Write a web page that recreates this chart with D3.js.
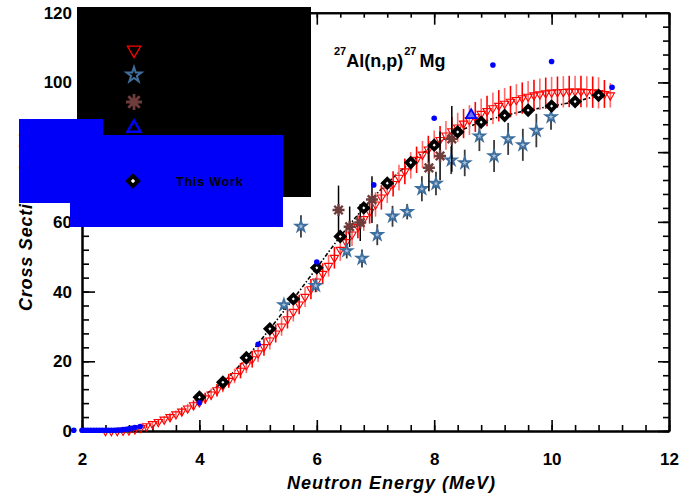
<!DOCTYPE html>
<html>
<head>
  <meta charset="utf-8">
  <title>27Al(n,p)27Mg</title>
  <script src="https://d3js.org/d3.v7.min.js"></script>
  <style>
    body { margin: 0; background: #fff; }
    text { font-family: "Liberation Sans", Arial, sans-serif; }
    .axis text { font-size: 17px; font-weight: bold; fill: #000; }
    .axis path, .axis line { stroke: #000; }
  </style>
</head>
<body>
<svg id="chart"></svg>
<script>
// ENDF-like evaluation (red down triangles)
const redE = [2.4, 2.5, 2.6, 2.7, 2.8, 2.9, 3.0, 3.1, 3.2, 3.3, 3.4, 3.5, 3.6, 3.7, 3.8, 3.9,
  4.0, 4.1, 4.2, 4.3, 4.4, 4.5, 4.6, 4.7, 4.8, 4.9, 5.0, 5.1, 5.2, 5.3, 5.4, 5.5, 5.6, 5.7, 5.8, 5.9,
  6.0, 6.1, 6.2, 6.3, 6.4, 6.5, 6.6, 6.7, 6.8, 6.9, 7.0, 7.1, 7.2, 7.3, 7.4, 7.5, 7.6, 7.7, 7.8, 7.9,
  8.0, 8.1, 8.2, 8.3, 8.4, 8.5, 8.6, 8.7, 8.8, 8.9, 9.0, 9.1, 9.2, 9.3, 9.4, 9.5, 9.6, 9.7, 9.8, 9.9,
  10.0, 10.1, 10.2, 10.3, 10.4, 10.5, 10.6, 10.7, 10.8, 10.9, 11.0];
const redV = [0.0, 0.0, 0.0, 0.1, 0.2, 0.5, 0.9, 1.4, 2.0, 2.6, 3.3, 4.0, 4.8, 5.6, 6.5, 7.4,
  8.3, 9.4, 10.5, 11.7, 13.0, 14.4, 15.8, 17.3, 18.9, 20.6, 22.3, 24.1, 26.0, 28.0, 30.0, 32.1, 34.2, 36.3, 38.5, 40.7,
  42.9, 45.1, 47.4, 49.7, 52.0, 54.2, 56.4, 58.6, 60.8, 62.9, 65.0, 67.0, 69.0, 70.9, 72.7, 74.5, 76.2, 77.8, 79.3, 80.8,
  82.2, 83.5, 84.8, 86.0, 87.1, 88.2, 89.2, 90.1, 91.0, 91.8, 92.6, 93.3, 93.9, 94.5, 95.0, 95.5, 95.9, 96.3, 96.6, 96.9,
  97.1, 97.2, 97.3, 97.4, 97.4, 97.4, 97.3, 97.2, 97.0, 96.7, 96.3];
const redErr = [0.2, 0.2, 0.2, 0.3, 0.3, 0.4, 0.5, 0.6, 0.7, 0.8, 0.9, 1.0, 1.1, 1.2, 1.3, 1.4,
  1.5, 1.6, 1.7, 1.8, 1.9, 2.0, 2.1, 2.2, 2.3, 2.4, 2.5, 2.5, 2.6, 2.6, 2.7, 2.7, 2.8, 2.8, 2.9, 2.9,
  3.0, 3.0, 3.1, 3.1, 3.2, 3.2, 3.3, 3.3, 3.4, 3.4, 3.5, 3.5, 3.6, 3.6, 3.7, 3.7, 3.8, 3.8, 3.9, 3.9,
  4.0, 4.0, 4.1, 4.1, 4.2, 4.2, 4.3, 4.3, 4.4, 4.4, 4.5, 4.5, 4.5, 4.5, 4.5, 4.5, 4.5, 4.5, 4.5, 4.5,
  4.5, 4.5, 4.5, 4.5, 4.5, 4.5, 4.5, 4.5, 4.5, 4.0, 3.5];

// blue stars
const starE = [5.44, 5.73, 5.98, 6.51, 6.77, 7.03, 7.29, 7.54, 7.79, 8.03, 8.29, 8.52, 8.77, 9.02, 9.26, 9.51, 9.74, 9.99];
const starV = [36.2, 58.7, 41.7, 51.7, 49.5, 56.3, 61.6, 62.9, 69.5, 71.0, 77.7, 76.9, 84.6, 78.9, 83.8, 82.1, 86.2, 90.1];
const starErr = [1.5, 3.2, 1.9, 2.2, 2.6, 3.0, 3.0, 2.2, 3.6, 3.4, 4.0, 3.8, 4.3, 4.6, 4.6, 4.6, 4.8, 3.7];

// brown asterisks
const astE = [6.37, 6.56, 6.74, 6.94, 7.91, 8.10, 8.30];
const astV = [63.4, 58.6, 59.8, 66.4, 75.5, 78.9, 83.8];
const astErr = [7.0, 5.8, 5.3, 6.7, 6.7, 7.0, 9.4];

// blue up triangle
const triE = [8.63];
const triV = [90.6];

// blue dots
const dotE = [1.86, 2.0, 2.05, 2.1, 2.15, 2.2, 2.25, 2.3, 2.35, 2.4, 2.45, 2.5, 2.55, 2.6, 2.65, 2.7, 2.75, 2.8, 2.85, 2.9, 2.99,
  4.0, 5.0, 6.0, 6.97, 8.0, 9.0, 10.0, 11.03];
const dotV = [0.2, 0.2, 0.2, 0.2, 0.2, 0.2, 0.2, 0.2, 0.2, 0.2, 0.2, 0.2, 0.2, 0.3, 0.3, 0.4, 0.5, 0.6, 0.8, 1.0, 1.3,
  8.1, 24.9, 48.5, 70.6, 89.7, 105.0, 106.0, 98.6];

// this work (black diamonds)
const workE = [4.0, 4.4, 4.8, 5.2, 5.6, 6.0, 6.4, 6.8, 7.2, 7.6, 8.0, 8.4, 8.8, 9.2, 9.6, 10.0, 10.4, 10.8];
const workV = [9.7, 14.0, 21.0, 29.3, 37.9, 46.8, 55.8, 64.0, 71.1, 77.0, 82.0, 85.8, 88.6, 90.5, 92.0, 93.2, 94.5, 96.3];

const xTicks = [2, 4, 6, 8, 10, 12];
const yTicks = [0, 20, 40, 60, 80, 100, 120];

const W = 679, H = 497;
const pLeft = 82, pRight = 669, pTop = 12.7, pBottom = 431;

const svg = d3.select("#chart").attr("width", W).attr("height", H);

const x = d3.scaleLinear().domain([2, 12]).range([pLeft, pRight]);
const y = d3.scaleLinear().domain([0, 120]).range([pBottom, pTop]);

const zip = (a, b, c) => a.map((d, i) => ({ e: d, v: b[i], err: c ? c[i] : 0 }));
const red = zip(redE, redV, redErr);
const stars = zip(starE, starV, starErr);
const asts = zip(astE, astV, astErr);
const dots = zip(dotE, dotV);
const work = zip(workE, workV);
const tris = zip(triE, triV);

const minorX = d3.range(2, 12.01, 0.4);
const minorY = d3.range(0, 120.1, 4);

// axes
function axes() {
  const g = svg.append("g").attr("class", "axis");
  g.append("g").attr("transform", `translate(0,${pBottom})`)
    .call(d3.axisBottom(x).tickValues(minorX).tickSize(-6).tickSizeOuter(0).tickFormat(""));
  g.append("g").attr("transform", `translate(0,${pBottom})`)
    .call(d3.axisBottom(x).tickValues(xTicks).tickSize(-11).tickSizeOuter(0).tickPadding(22).tickFormat(d3.format("d")));
  g.append("g").attr("transform", `translate(0,${pTop})`)
    .call(d3.axisTop(x).tickValues(minorX).tickSize(-5).tickSizeOuter(0).tickFormat(""));
  g.append("g").attr("transform", `translate(0,${pTop})`)
    .call(d3.axisTop(x).tickValues(xTicks).tickSize(-12).tickSizeOuter(0).tickFormat(""));
  g.append("g").attr("transform", `translate(${pLeft},0)`)
    .call(d3.axisLeft(y).tickValues(minorY).tickSize(-7).tickSizeOuter(0).tickFormat(""));
  g.append("g").attr("transform", `translate(${pLeft},0)`)
    .call(d3.axisLeft(y).tickValues(yTicks).tickSize(-13).tickSizeOuter(0).tickPadding(10));
  g.append("g").attr("transform", `translate(${pRight},0)`)
    .call(d3.axisRight(y).tickValues(minorY).tickSize(-6).tickSizeOuter(0).tickFormat(""));
  g.append("g").attr("transform", `translate(${pRight},0)`)
    .call(d3.axisRight(y).tickValues(yTicks).tickSize(-11).tickSizeOuter(0).tickFormat(""));
  g.selectAll("path.domain").attr("stroke-width", 2);
  g.selectAll(".tick line").attr("stroke-width", 1.6);
}
axes();

// fit line through this work
svg.append("path")
  .datum(work)
  .attr("fill", "none")
  .attr("stroke", "#000")
  .attr("stroke-width", 1.6)
  .attr("stroke-dasharray", "4,2,1.5,2")
  .attr("d", d3.line().x(d => x(d.e)).y(d => y(d.v)).curve(d3.curveMonotoneX));

// red evaluation
svg.append("g").selectAll("line").data(red).join("line")
  .attr("x1", d => x(d.e)).attr("x2", d => x(d.e))
  .attr("y1", d => y(d.v - d.err)).attr("y2", d => y(d.v + d.err))
  .attr("stroke", (d, i) => i % 2 ? "#ff0000" : "#ff6a6a")
  .attr("stroke-width", 1.6);
svg.append("g").selectAll("path").data(red).join("path")
  .attr("transform", d => `translate(${x(d.e)},${y(d.v)}) rotate(180)`)
  .attr("d", d3.symbol(d3.symbolTriangle, 30))
  .attr("fill", "none")
  .attr("stroke", "#ff0000")
  .attr("stroke-width", 1.1);

// stars
svg.append("g").selectAll("line").data(stars).join("line")
  .attr("x1", d => x(d.e)).attr("x2", d => x(d.e))
  .attr("y1", d => y(d.v - d.err)).attr("y2", d => y(d.v + d.err))
  .attr("stroke", "#3a3a3a").attr("stroke-width", 1.8);
svg.append("g").selectAll("path").data(stars).join("path")
  .attr("transform", d => `translate(${x(d.e)},${y(d.v)})`)
  .attr("d", d3.symbol(d3.symbolStar, 36))
  .attr("fill", "#a7c1db").attr("stroke", "#3e6e9e").attr("stroke-width", 1.8);

// asterisks
function asterisk(r) {
  const a = r * Math.SQRT1_2;
  return `M${-r},0L${r},0M0,${-r}L0,${r}M${-a},${-a}L${a},${a}M${-a},${a}L${a},${-a}`;
}
svg.append("g").selectAll("line").data(asts).join("line")
  .attr("x1", d => x(d.e)).attr("x2", d => x(d.e))
  .attr("y1", d => y(d.v - d.err)).attr("y2", d => y(d.v + d.err))
  .attr("stroke", "#000").attr("stroke-width", 1.5);
svg.append("g").selectAll("g").data(asts).join("g")
  .attr("transform", d => `translate(${x(d.e)},${y(d.v)})`)
  .each(function () {
    const g = d3.select(this);
    g.append("path").attr("d", asterisk(6)).attr("stroke", "#6e3d3b").attr("stroke-width", 2.4);
    g.append("circle").attr("r", 3.2).attr("fill", "#6e3d3b");
  });

// blue triangle
svg.append("g").selectAll("path").data(tris).join("path")
  .attr("transform", d => `translate(${x(d.e)},${y(d.v)})`)
  .attr("d", d3.symbol(d3.symbolTriangle, 45))
  .attr("fill", "#6f6fff").attr("stroke", "#0000ff").attr("stroke-width", 1.8);

// this work diamonds
svg.append("g").selectAll("path").data(work).join("path")
  .attr("transform", d => `translate(${x(d.e)},${y(d.v)}) rotate(45)`)
  .attr("d", d3.symbol(d3.symbolSquare, 36))
  .attr("fill", "#fff").attr("stroke", "#000").attr("stroke-width", 3.8);

// blue dots
svg.append("g").selectAll("circle").data(dots).join("circle")
  .attr("cx", d => x(d.e)).attr("cy", d => y(d.v)).attr("r", 2.8)
  .attr("fill", "#0000ff");

// title
const title = svg.append("text").attr("x", 334).attr("y", 67)
  .attr("font-weight", "bold").attr("font-size", 18);
title.append("tspan").attr("font-size", 11).attr("dy", -12).text("27");
title.append("tspan").attr("dy", 12).text("Al(n,p)");
title.append("tspan").attr("font-size", 11).attr("dy", -12).attr("dx", 1).text("27");
title.append("tspan").attr("dy", 12).attr("dx", 3).text("Mg");

// axis labels
svg.append("text")
  .attr("x", 287).attr("y", 489)
  .attr("font-size", 18).attr("font-weight", "bold").attr("font-style", "italic")
  .attr("letter-spacing", 1)
  .text("Neutron Energy (MeV)");
svg.append("text")
  .attr("transform", `translate(32,311) rotate(-90)`)
  .attr("font-size", 18).attr("font-weight", "bold").attr("font-style", "italic")
  .attr("letter-spacing", 0.8)
  .text("Cross Section (mb)");

// legend boxes
svg.append("rect").attr("x", 77).attr("y", 7).attr("width", 234).attr("height", 190).attr("fill", "#000");
svg.append("rect").attr("x", 19).attr("y", 119).attr("width", 84).attr("height", 84).attr("fill", "#0000f8");
svg.append("rect").attr("x", 70).attr("y", 135).attr("width", 213).attr("height", 92).attr("fill", "#0000f8");

const lx = 134;
svg.append("path").attr("transform", `translate(${lx},50) rotate(180)`)
  .attr("d", d3.symbol(d3.symbolTriangle, 75))
  .attr("fill", "none").attr("stroke", "#ff0000").attr("stroke-width", 1.3);
svg.append("path").attr("transform", `translate(${lx},75)`)
  .attr("d", d3.symbol(d3.symbolStar, 70))
  .attr("fill", "#000").attr("stroke", "#3f6d9c").attr("stroke-width", 2);
svg.append("path").attr("transform", `translate(${lx},102)`)
  .attr("d", asterisk(8)).attr("stroke", "#6e3d3b").attr("stroke-width", 2.8);
svg.append("circle").attr("cx", lx).attr("cy", 102).attr("r", 4).attr("fill", "#6e3d3b");
svg.append("path").attr("transform", `translate(${lx},128)`)
  .attr("d", d3.symbol(d3.symbolTriangle, 75))
  .attr("fill", "#000").attr("stroke", "#0000ff").attr("stroke-width", 2.4);
svg.append("path").attr("transform", `translate(133,181) rotate(45)`)
  .attr("d", d3.symbol(d3.symbolSquare, 50))
  .attr("fill", "#fff").attr("stroke", "#000").attr("stroke-width", 4);
svg.append("text").attr("x", 176).attr("y", 186)
  .attr("font-size", 12.5).attr("font-weight", "bold").attr("letter-spacing", 0.8)
  .attr("fill", "#000")
  .text("This Work");
</script>
</body>
</html>
